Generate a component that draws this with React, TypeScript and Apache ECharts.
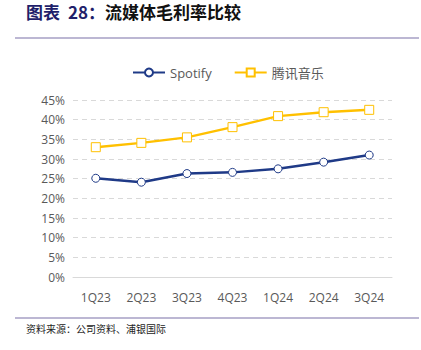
import React, { useEffect, useRef } from "react";
import * as echarts from "echarts";

const categories = ["1Q23", "2Q23", "3Q23", "4Q23", "1Q24", "2Q24", "3Q24"];
const spotify = [25.1, 24.1, 26.3, 26.6, 27.5, 29.2, 31.0];
const tencent = [33.0, 34.1, 35.5, 38.1, 40.9, 41.9, 42.5];
const seriesNames = ["Spotify", "腾讯音乐"];

export default function App() {
  const ref = useRef<HTMLDivElement>(null);
  useEffect(() => {
    const chart = echarts.init(ref.current!, null, { renderer: "svg" });
    const tf = "Noto Sans CJK SC";
    chart.setOption({
      animation: false,
      backgroundColor: "#fff",
      graphic: [
        { type: "text", left: 26, top: 3, style: { text: "图表", fill: "#1F1F6B", fontSize: 17, fontWeight: "bold", fontFamily: tf } },
        { type: "text", left: 68, top: 3, style: { text: "28：", fill: "#1F1F6B", fontSize: 17, fontWeight: "bold", fontFamily: tf } },
        { type: "text", left: 105, top: 3, style: { text: "流媒体毛利率比较", fill: "#111", fontSize: 17, fontWeight: "bold", fontFamily: tf } },
        { type: "line", shape: { x1: 15, y1: 38, x2: 419, y2: 38 }, style: { stroke: "#7B70A8", lineWidth: 1.2 } },
        { type: "line", shape: { x1: 15, y1: 318, x2: 419, y2: 318 }, style: { stroke: "#7B70A8", lineWidth: 1.2 } },
        {
          type: "text",
          left: 26,
          top: 323,
          style: { text: "资料来源：公司资料、浦银国际", fill: "#222", fontSize: 10, fontFamily: tf },
        },
      ],
      legend: {
        top: 61,
        left: 127,
        itemGap: 22,
        itemWidth: 32,
        itemHeight: 10,
        textStyle: { color: "#595959", fontSize: 13, fontFamily: "Open Sans, Noto Sans CJK SC" },
        data: seriesNames,
      },
      grid: { left: 73, right: 29, top: 100, bottom: 73 },
      xAxis: {
        type: "category",
        data: categories,
        axisLine: { lineStyle: { color: "#D9D9D9", width: 1 } },
        axisTick: { show: false },
        axisLabel: { color: "#595959", fontSize: 12, margin: 14, fontFamily: "Open Sans" },
      },
      yAxis: {
        type: "value",
        min: 0,
        max: 45,
        interval: 5,
        axisLabel: { color: "#595959", fontSize: 12, formatter: "{value}%", fontFamily: "Open Sans", margin: 8 },
        splitLine: { lineStyle: { color: "#D9D9D9", type: [5, 4], width: 1 } },
        axisLine: { show: false },
        axisTick: { show: false },
      },
      series: [
        {
          name: seriesNames[0],
          type: "line",
          data: spotify,
          symbol: "circle",
          symbolSize: 8,
          lineStyle: { color: "#1F3A87", width: 2.5 },
          itemStyle: { color: "#fff", borderColor: "#1F3A87", borderWidth: 1 },
        },
        {
          name: seriesNames[1],
          type: "line",
          data: tencent,
          symbol: "rect",
          symbolSize: 9,
          lineStyle: { color: "#FFC000", width: 2.5 },
          itemStyle: { color: "#fff", borderColor: "#FFC000", borderWidth: 1 },
        },
      ],
    });
    return () => chart.dispose();
  }, []);
  return <div ref={ref} style={{ width: 421, height: 350, position: "absolute", left: 0, top: 0 }} />;
}
